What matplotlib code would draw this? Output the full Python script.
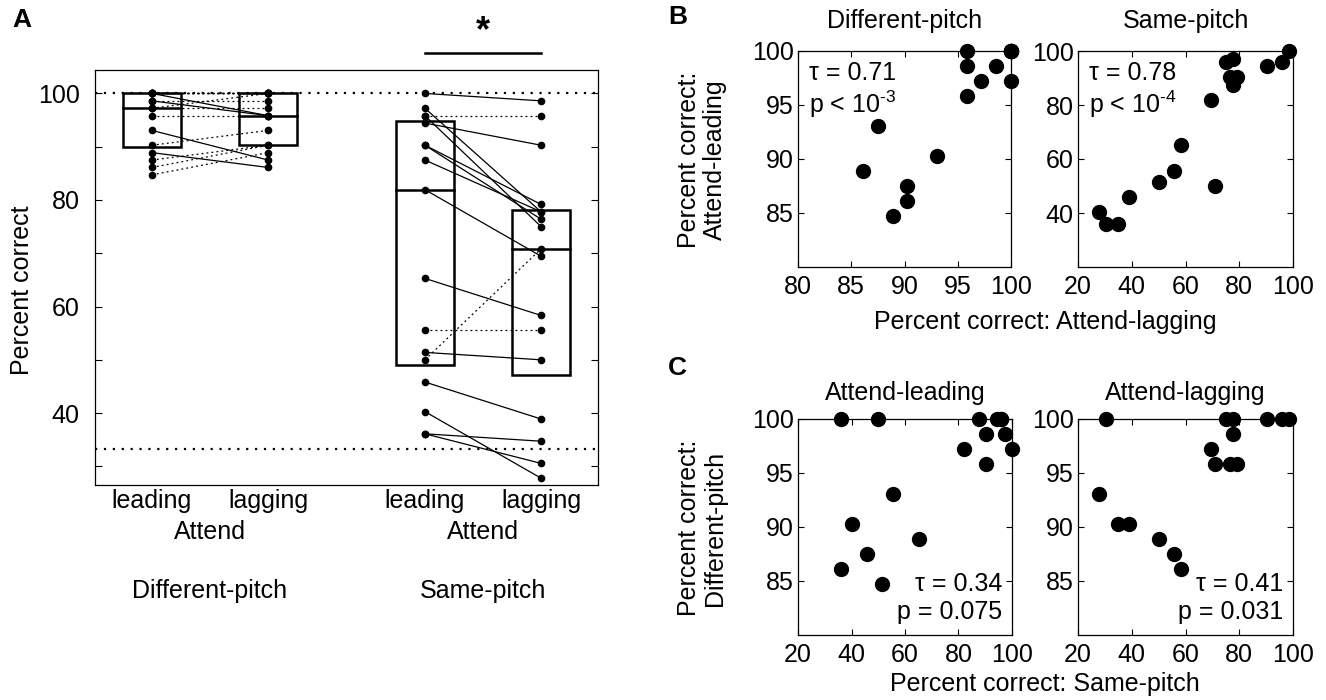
import numpy as np
import matplotlib
matplotlib.use("Agg")
import matplotlib.pyplot as plt
from matplotlib.patches import Rectangle

plt.rcParams['font.family'] = ['Liberation Sans', 'DejaVu Sans']
plt.rcParams['mathtext.fontset'] = 'custom'
plt.rcParams['mathtext.rm'] = 'Liberation Sans'
plt.rcParams['mathtext.default'] = 'regular'

# ---- data: percent correct per subject (17 subjects) ----
diff_lead = [97.22, 100, 100, 100, 98.61, 98.61, 95.83, 100, 97.22, 88.89, 93.06, 84.72, 100, 87.50, 90.28, 100, 86.11]
diff_lag  = [100, 100, 100, 100, 98.61, 95.83, 95.83, 100, 97.22, 86.11, 87.50, 88.89, 95.83, 90.28, 93.06, 100, 90.28]
same_lead = [100, 95.83, 94.44, 95.83, 97.22, 90.28, 90.28, 87.50, 81.94, 65.28, 55.56, 51.39, 50.00, 45.83, 40.28, 36.11, 36.11]
same_lag  = [98.61, 95.83, 90.28, 75.00, 77.78, 76.39, 79.17, 77.78, 69.44, 58.33, 55.56, 50.00, 70.83, 38.89, 27.78, 30.56, 34.72]

cond_labels = ["leading", "lagging", "leading", "lagging"]
group_labels = ["Different-pitch", "Same-pitch"]
chance = 100 / 3

stats_B = [("τ = 0.71", r"p < 10$^{\text{-3}}$"), ("τ = 0.78", r"p < 10$^{\text{-4}}$")]
stats_C = [("τ = 0.34", "p = 0.075"), ("τ = 0.41", "p = 0.031")]

W, H = 1326, 700
fig = plt.figure(figsize=(W / 100, H / 100), dpi=100)

def rect(x0, y0, x1, y1):
    return [x0 / W, 1 - y1 / H, (x1 - x0) / W, (y1 - y0) / H]

def ftext(x, y, s, **kw):
    fig.text(x / W, 1 - y / H, s, **kw)

FS = 18

# ---------------- Panel A ----------------
axA = fig.add_axes(rect(95, 70, 598, 485))
pos = [1, 2, 3.35, 4.35]
bw = 0.5
pairs = [(diff_lead, diff_lag), (same_lead, same_lag)]
for g, (lead, lag) in enumerate(pairs):
    xl, xg = pos[2 * g], pos[2 * g + 1]
    for vals, xc in ((lead, xl), (lag, xg)):
        q1, med, q3 = np.percentile(vals, [25, 50, 75], method='hazen')
        axA.add_patch(Rectangle((xc - bw / 2, q1), bw, q3 - q1, fill=False,
                                 lw=1.8, ec='k', zorder=2))
        axA.plot([xc - bw / 2, xc + bw / 2], [med, med], color='k', lw=1.8, zorder=2)
    for a, b in zip(lead, lag):
        if a > b:
            axA.plot([xl, xg], [a, b], color='k', lw=0.9, zorder=3)
        else:
            axA.plot([xl, xg], [a, b], color='k', lw=0.9, ls=(0, (1.5, 2.5)), zorder=3)
    axA.plot([xl] * len(lead), lead, 'o', color='k', ms=4.5, zorder=4)
    axA.plot([xg] * len(lag), lag, 'o', color='k', ms=4.5, zorder=4)

axA.axhline(100, color='k', lw=1.6, ls=(0, (1, 3)), zorder=1)
axA.axhline(chance, color='k', lw=1.6, ls=(0, (1, 3)), zorder=1)
axA.set_xlim(0.51, 4.84)
axA.set_ylim(26.5, 104.4)
axA.set_yticks(np.arange(30, 101, 10))
axA.set_yticklabels(['' if v % 20 else str(v) for v in range(30, 101, 10)])
axA.tick_params(axis='y', direction='in', right=True, length=5, pad=11, labelsize=FS)
axA.set_xticks(pos)
axA.set_xticklabels(cond_labels)
axA.tick_params(axis='x', length=0, pad=3, labelsize=FS)
for s in axA.spines.values():
    s.set_linewidth(0.9)

# significance bar
ysig = 107.6
axA.plot([pos[2], pos[3]], [ysig, ysig], color='k', lw=1.8, clip_on=False)
axA.text((pos[2] + pos[3]) / 2, ysig + 0.8, "*", ha='center', va='bottom',
         fontsize=26, fontweight='bold')

# group labels
for g in range(2):
    xc = (pos[2 * g] + pos[2 * g + 1]) / 2
    xpix = 95 + (xc - 0.51) / (4.84 - 0.51) * (598 - 95)
    ftext(xpix, 532, "Attend", ha='center', va='center', fontsize=FS)
    ftext(xpix, 591, group_labels[g], ha='center', va='center', fontsize=FS)

ftext(22, 290, "Percent correct", rotation=90, ha='center', va='center', fontsize=FS)
ftext(12, 8, "A", ha='left', va='top', fontsize=19, fontweight='bold')

# ---------------- Panels B and C ----------------
def scatter_panel(box, x, y, xlim, ylim, xticks, yticks, title, tpad, stats, stat_loc):
    ax = fig.add_axes(rect(*box))
    ax.plot(x, y, 'o', color='k', ms=10, clip_on=False, zorder=5)
    ax.set_xlim(*xlim)
    ax.set_ylim(*ylim)
    ax.set_xticks(xticks)
    ax.set_yticks(yticks)
    ax.tick_params(direction='in', top=True, right=True, length=4, labelsize=FS)
    ax.tick_params(axis='x', pad=6)
    ax.tick_params(axis='y', pad=3)
    for s in ax.spines.values():
        s.set_linewidth(0.9)
    ax.set_title(title, fontsize=FS, pad=tpad)
    if stat_loc == 'tl':
        ax.text(0.05, 0.955, stats[0], transform=ax.transAxes, ha='left', va='top', fontsize=FS)
        ax.text(0.05, 0.825, stats[1], transform=ax.transAxes, ha='left', va='top', fontsize=FS)
    else:
        ax.text(0.955, 0.205, stats[0], transform=ax.transAxes, ha='right', va='baseline', fontsize=FS)
        ax.text(0.955, 0.075, stats[1], transform=ax.transAxes, ha='right', va='baseline', fontsize=FS)
    return ax

scatter_panel((798, 51, 1011, 267), diff_lag, diff_lead, (80, 100), (80, 100),
              [80, 85, 90, 95, 100], [85, 90, 95, 100], "Different-pitch", 16.5, stats_B[0], 'tl')
scatter_panel((1078, 51, 1293, 267), same_lag, same_lead, (20, 100), (20, 100),
              [20, 40, 60, 80, 100], [40, 60, 80, 100], "Same-pitch", 16.5, stats_B[1], 'tl')
scatter_panel((798, 419, 1012, 635), same_lead, diff_lead, (20, 100), (80, 100),
              [20, 40, 60, 80, 100], [85, 90, 95, 100], "Attend-leading", 13.7, stats_C[0], 'br')
scatter_panel((1078, 419, 1293, 635), same_lag, diff_lag, (20, 100), (80, 100),
              [20, 40, 60, 80, 100], [85, 90, 95, 100], "Attend-lagging", 13.7, stats_C[1], 'br')

ftext(702, 160, "Percent correct:\nAttend-leading", rotation=90, ha='center', va='center',
      fontsize=FS, linespacing=1.1)
ftext(702, 528, "Percent correct:\nDifferent-pitch", rotation=90, ha='center', va='center',
      fontsize=FS, linespacing=1.1)
ftext(1045, 322, "Percent correct: Attend-lagging", ha='center', va='center', fontsize=FS)
ftext(1045, 684, "Percent correct: Same-pitch", ha='center', va='center', fontsize=FS)
ftext(668, 5, "B", ha='left', va='top', fontsize=19, fontweight='bold')
ftext(668, 356, "C", ha='left', va='top', fontsize=19, fontweight='bold')

fig.savefig("out.png", dpi=100)
